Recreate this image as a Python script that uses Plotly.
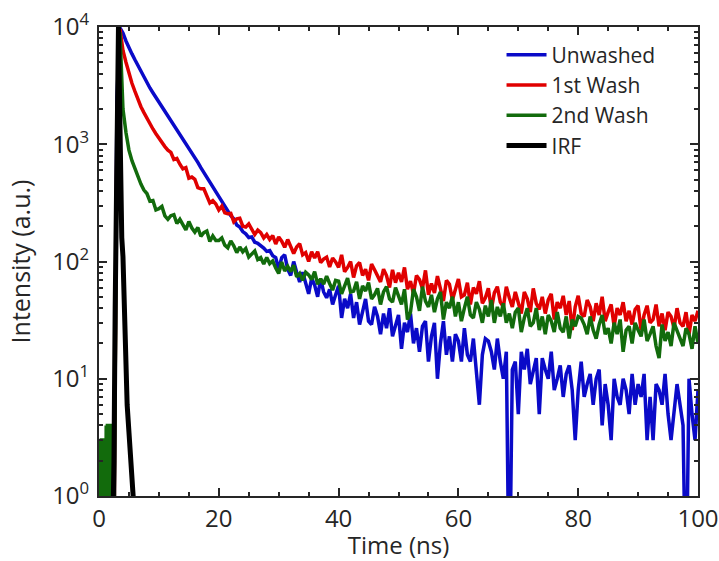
import plotly.graph_objects as go

# ---------------- data ----------------
# TCSPC channel times (ns): fine 0.1 ns grid before the pulse, 0.5 ns afterwards
time_ns = [round(0.1 * i, 1) for i in range(30)] + [3.0 + 0.5 * k for k in range(195)]

unwashed = [
    # 0.0 - 2.9 ns
    0.1, 1, 0.1, 0.1, 2, 0.1, 0.1, 1, 0.1, 0.1, 1, 0.1, 0.1, 2, 0.1,
    0.1, 1, 0.1, 0.1, 2, 0.1, 0.1, 1, 0.1, 0.1, 0.1, 3, 20, 150, 700,
    # 3.0 - 19.5 ns
    2500, 9800, 8900, 7600, 6600, 5900, 5250, 4680, 4170, 3720,
    3310, 3020, 2750, 2510, 2340, 2140, 1950, 1780, 1620, 1480,
    1350, 1230, 1120, 1020, 933, 851, 776, 700, 631, 575,
    525, 473, 427, 389,
    # 20.0 - 29.5 ns
    355, 330, 292, 272, 246, 232, 205, 197, 180, 172,
    160, 162, 146, 143, 137, 130, 122, 124, 112, 108,
    # 30.0 - 100.0 ns
    86, 108, 114, 86, 76, 100, 81, 67, 81, 64,
    53, 72, 63, 50, 71, 55, 49, 58, 43, 52,
    62, 33, 48, 40, 53, 33, 45, 29, 38, 48,
    31, 29, 41, 34, 24, 36, 27, 40, 23, 28,
    35, 18, 30, 25, 36, 20, 27, 17, 28, 31,
    14, 23, 30, 10, 20, 31, 16, 23, 14, 24,
    21, 14, 27, 16, 14, 22, 11, 6, 16, 22,
    21, 17, 12, 22, 14, 10, 17, 0.1, 12, 14,
    5, 17, 12, 18, 9, 12, 15, 5, 15, 12,
    10, 17, 8, 10, 13, 7, 11, 13, 8, 3,
    8, 14, 7, 9, 11, 6, 10, 12, 4, 9,
    6, 3, 10, 7, 6, 10, 8, 5, 11, 6,
    9, 7, 11, 3, 7, 3, 9, 8, 6, 11,
    5, 3, 5, 9, 6, 4, 0.1, 10, 5, 3, 8,
]

first_wash = [
    # 0.0 - 2.9 ns
    0.1, 2, 0.1, 0.1, 1, 0.1, 0.1, 0.1, 1, 0.1, 3, 0.1, 0.1, 1, 0.1,
    0.1, 2, 0.1, 0.1, 0.1, 1, 0.1, 0.1, 2, 0.1, 0.1, 2, 15, 100, 500,
    # 3.0 - 11.5 ns
    1500, 9600, 6310, 5010, 3980, 3310, 2820, 2400, 2090, 1860,
    1660, 1500, 1350, 1230, 1120, 1035, 955, 891,
    # 12.0 - 29.5 ns
    851, 741, 758, 676, 616, 631, 513, 525, 502, 427,
    417, 417, 355, 316, 331, 309, 275, 297, 260, 256,
    257, 218, 231, 234, 200, 197, 209, 188, 170, 185,
    176, 159, 170, 154, 166, 141,
    # 30.0 - 100.0 ns
    162, 149, 132, 154, 131, 117, 133, 142, 114, 119,
    100, 121, 107, 121, 98, 105, 109, 90, 107, 99,
    89, 114, 82, 89, 100, 73, 92, 98, 76, 86,
    69, 95, 85, 74, 67, 86, 76, 60, 85, 66,
    80, 67, 89, 58, 68, 53, 76, 70, 59, 84,
    52, 65, 54, 75, 59, 46, 69, 64, 47, 58,
    71, 50, 52, 66, 43, 60, 53, 68, 44, 49,
    59, 39, 54, 61, 45, 41, 61, 49, 41, 55,
    44, 36, 55, 48, 37, 59, 44, 39, 50, 36,
    47, 53, 32, 45, 40, 51, 35, 46, 26, 41,
    51, 36, 34, 47, 41, 31, 44, 35, 50, 31,
    37, 43, 28, 40, 35, 45, 31, 38, 29, 39,
    42, 26, 35, 42, 30, 32, 43, 28, 36, 26,
    37, 34, 27, 40, 30, 28, 37, 24, 35, 31, 38,
]

second_wash = [
    # 0.0 - 2.9 ns
    3, 0.1, 3, 0.1, 3, 3, 0.1, 3, 0.1, 3, 3, 0.1, 4, 0.1, 4,
    4, 0.1, 4, 0.1, 4, 4, 0.1, 4, 0.1, 0.1, 0.1, 2, 10, 80, 400,
    # 3.0 - 7.5 ns
    1200, 9000, 2000, 1260, 891, 724, 617, 525, 457, 407,
    # 8.0 - 29.5 ns
    380, 327, 331, 275, 282, 295, 245, 229, 246, 251,
    211, 229, 206, 186, 219, 193, 178, 195, 164, 176,
    182, 148, 165, 151, 151, 159, 138, 131, 150, 136,
    119, 133, 121, 129, 109, 115, 123, 104, 108, 95,
    108, 96, 101, 88,
    # 30.0 - 100.0 ns
    79, 99, 83, 91, 82, 93, 74, 79, 69, 81,
    77, 70, 82, 64, 71, 64, 75, 65, 57, 69,
    68, 53, 62, 72, 55, 56, 67, 48, 62, 56,
    66, 48, 52, 59, 43, 55, 61, 48, 45, 60,
    51, 43, 58, 32, 37, 58, 50, 38, 61, 46,
    41, 52, 37, 48, 55, 32, 45, 40, 50, 34,
    45, 31, 40, 50, 35, 33, 45, 39, 30, 42,
    34, 47, 30, 41, 34, 44, 30, 36, 27, 37,
    40, 25, 33, 40, 28, 30, 40, 26, 34, 24,
    35, 31, 25, 37, 27, 25, 34, 22, 32, 28,
    34, 33, 29, 24, 34, 26, 22, 29, 35, 24,
    27, 20, 30, 24, 32, 17, 26, 28, 20, 30,
    26, 23, 32, 21, 24, 28, 19, 15, 29, 21,
    25, 19, 30, 26, 22, 19, 27, 24, 18, 28, 20,
]

irf_time = [2.3, 2.5, 2.7, 2.9, 3.1, 3.25, 3.4, 3.6, 3.8, 4.0,
            4.2, 4.4, 4.7, 5.0, 5.3, 5.6, 5.9]
irf = [0.5, 2, 40, 800, 6000, 10000, 3000, 400, 160, 110,
       35, 12, 6, 3.5, 2.2, 1.3, 0.7]

for _s in (unwashed, first_wash, second_wash):
    assert len(_s) == len(time_ns), (len(_s), len(time_ns))

series_names = ["Unwashed", "1st Wash", "2nd Wash", "IRF"]
series_colors = ["#0a0ac8", "#e00000", "#126b0c", "#000000"]

x_tick_vals = [0, 20, 40, 60, 80, 100]
y_tick_vals = [1, 10, 100, 1000, 10000]
y_tick_text = ["10<sup>0</sup>", "10<sup>1</sup>", "10<sup>2</sup>",
               "10<sup>3</sup>", "10<sup>4</sup>"]
y_minor_vals = [k * 10 ** n for n in range(4) for k in range(2, 10)]

# ---------------- figure ----------------
AX = "#262626"
FONT = "Open Sans"

fig = go.Figure()
for name, ys, col in zip(series_names[:3], [unwashed, first_wash, second_wash], series_colors[:3]):
    fig.add_trace(go.Scatter(x=time_ns, y=ys, mode="lines", name=name,
                             line=dict(color=col, width=3.5)))
fig.add_trace(go.Scatter(x=irf_time, y=irf, mode="lines", name=series_names[3],
                         line=dict(color=series_colors[3], width=5)))

fig.update_layout(
    width=719, height=561,
    margin=dict(l=99, r=21, t=27, b=65, autoexpand=False),
    paper_bgcolor="white", plot_bgcolor="white",
    font=dict(family=FONT, size=24, color=AX),
    showlegend=True,
    legend=dict(x=0.672, y=0.984, xanchor="left", yanchor="top",
                bgcolor="rgba(0,0,0,0)", font=dict(size=21, color=AX),
                tracegroupgap=0, itemwidth=40),
)

fig.update_xaxes(
    range=[0, 100], tickmode="array", tickvals=x_tick_vals, automargin=False,
    ticks="inside", ticklen=8, tickwidth=2, tickcolor=AX,
    showline=True, linewidth=2, linecolor=AX, mirror="ticks",
    showgrid=False, zeroline=False,
    minor=dict(dtick=5, tick0=0, ticks="inside", ticklen=4, tickwidth=1.5, tickcolor=AX, showgrid=False),
    tickfont=dict(size=24, color=AX, family=FONT),
    ticklabelstandoff=0,
    title=dict(text="Time (ns)", font=dict(size=24, color=AX, family=FONT), standoff=0),
)
fig.update_yaxes(
    type="log", range=[0, 4], tickmode="array", tickvals=y_tick_vals, ticktext=y_tick_text,
    automargin=False,
    ticks="inside", ticklen=8, tickwidth=2, tickcolor=AX,
    showline=True, linewidth=2, linecolor=AX, mirror="ticks",
    showgrid=False, zeroline=False,
    minor=dict(tickmode="array", tickvals=y_minor_vals, ticks="inside", ticklen=4,
               tickwidth=1.5, tickcolor=AX, showgrid=False),
    tickfont=dict(size=24, color=AX, family=FONT),
    ticklabelstandoff=3,
    title=dict(text="Intensity (a.u.)", font=dict(size=25, color=AX, family=FONT), standoff=14),
)

fig.write_html("out.html")
